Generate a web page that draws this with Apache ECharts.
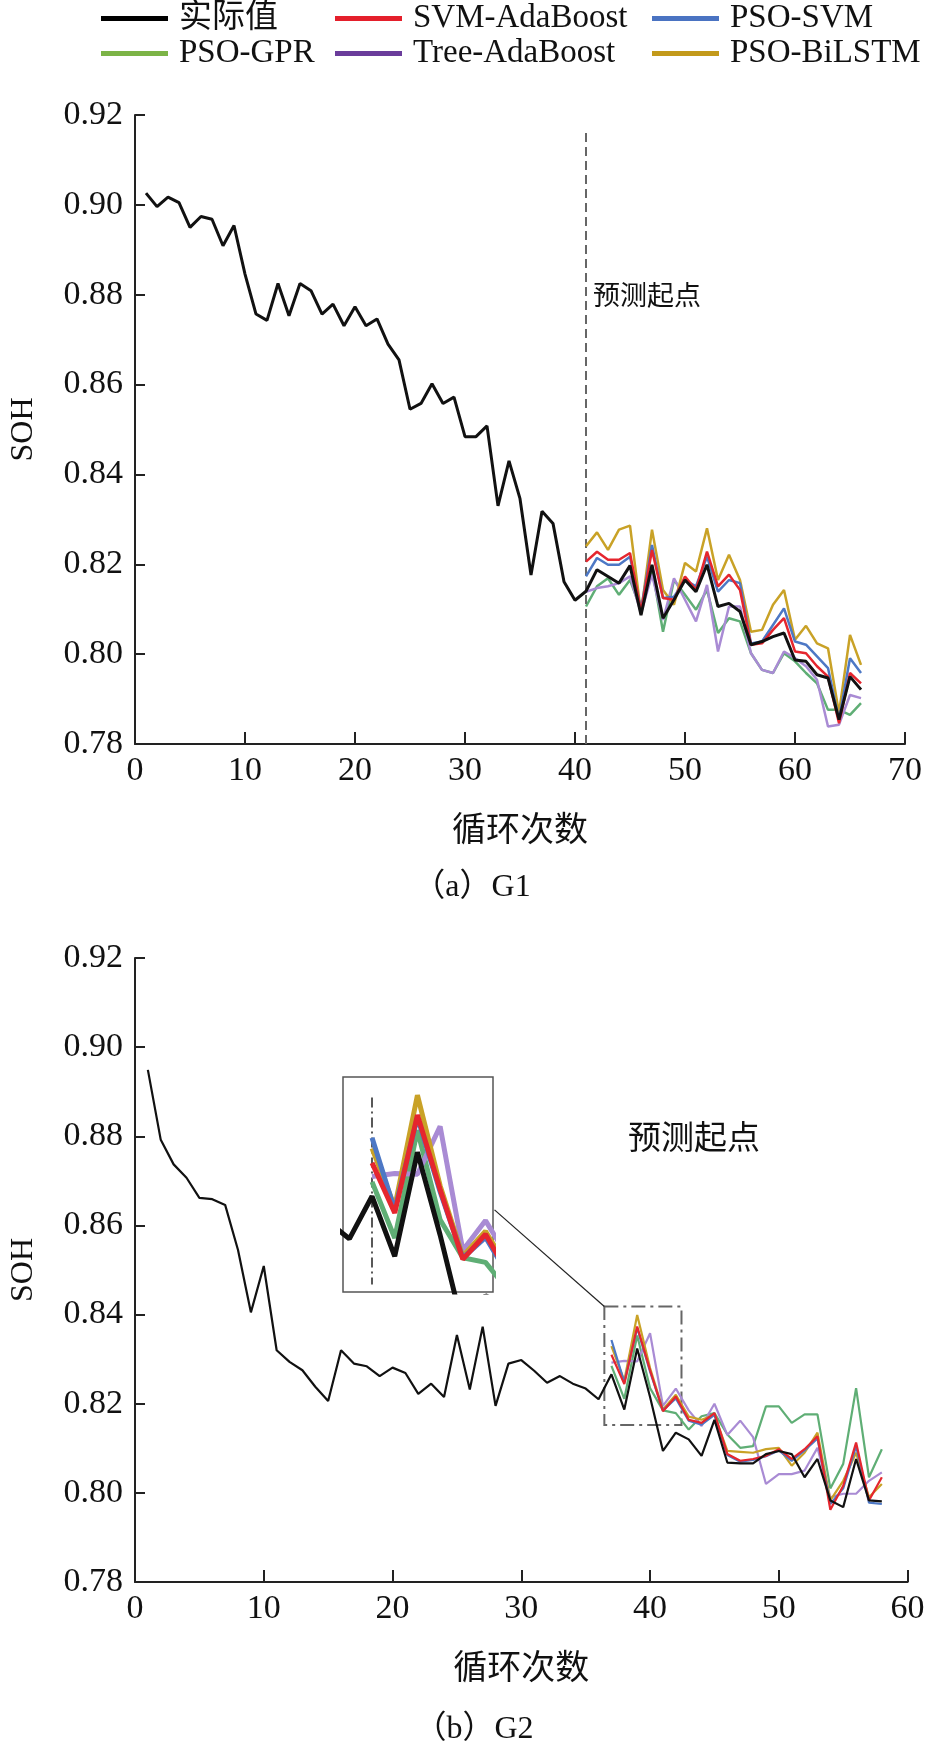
<!DOCTYPE html>
<html>
<head>
<meta charset="utf-8">
<title>SOH</title>
<script src="https://cdn.jsdelivr.net/npm/echarts@6/dist/echarts.min.js"></script>
<style>
	html, body { margin: 0; padding: 0; background: #fff; }
	#soh_chart { width: 930px; height: 1757px; }
</style>
</head>
<body>
<div id="soh_chart"></div>
<script>
//Series names, legend order
let names = ['实际值', 'SVM-AdaBoost', 'PSO-SVM', 'PSO-GPR', 'Tree-AdaBoost', 'PSO-BiLSTM'];
let lineColors = ['#111111', '#e5262e', '#4d78c5', '#5fae75', '#a98bd4', '#c9a227'];
let legendColors = ['#000000', '#e41f2b', '#4a73c2', '#7cb447', '#6a3c9b', '#c39a1b'];

//Axis ticks
let g1XTicks = [0, 70, 10];
let g2XTicks = [0, 60, 10];
let sohTicks = [0.78, 0.92, 0.02];

//G1: measured SOH from cycle 1, predictions from cycle 41
let g1Start = 41;
let g1Actual = [
	0.9026, 0.8996, 0.9017, 0.9005, 0.8950, 0.8974, 0.8968, 0.8909, 0.8954, 0.8846,
	0.8757, 0.8743, 0.8825, 0.8753, 0.8825, 0.8809, 0.8757, 0.8779, 0.8731, 0.8773,
	0.8731, 0.8746, 0.8690, 0.8655, 0.8545, 0.8558, 0.8602, 0.8558, 0.8572, 0.8484,
	0.8484, 0.8508, 0.8330, 0.8430, 0.8346, 0.8176, 0.8318, 0.8291, 0.8161, 0.8120,
	0.8140, 0.8188, 0.8173, 0.8158, 0.8197, 0.8087, 0.8199, 0.8080, 0.8121, 0.8165,
	0.8139, 0.8199, 0.8106, 0.8113, 0.8095, 0.8021, 0.8028, 0.8039, 0.8047, 0.7987,
	0.7984, 0.7954, 0.7947, 0.7854, 0.7950, 0.7921
];
let g1SvmAda = [0.8206, 0.8228, 0.8210, 0.8210, 0.8225, 0.8095, 0.8232, 0.8125, 0.8121, 0.8173, 0.8143, 0.8228, 0.8151, 0.8177, 0.8143, 0.8021, 0.8024, 0.8054, 0.8080, 0.8006, 0.8002, 0.7973, 0.7950, 0.7846, 0.7958, 0.7935];
let g1PsoSvm = [0.8173, 0.8214, 0.8199, 0.8199, 0.8217, 0.8099, 0.8243, 0.8125, 0.8128, 0.8165, 0.8151, 0.8217, 0.8139, 0.8165, 0.8158, 0.8024, 0.8028, 0.8065, 0.8102, 0.8028, 0.8021, 0.7995, 0.7969, 0.7854, 0.7991, 0.7958];
let g1PsoGpr = [0.8106, 0.8151, 0.8169, 0.8132, 0.8165, 0.8099, 0.8191, 0.8050, 0.8165, 0.8132, 0.8099, 0.8143, 0.8047, 0.8080, 0.8073, 0.8002, 0.7965, 0.7958, 0.8002, 0.7984, 0.7958, 0.7935, 0.7876, 0.7876, 0.7865, 0.7891];
let g1TreeAda = [0.8139, 0.8147, 0.8151, 0.8158, 0.8173, 0.8091, 0.8177, 0.8076, 0.8169, 0.8121, 0.8073, 0.8154, 0.8006, 0.8106, 0.8106, 0.8002, 0.7965, 0.7958, 0.8006, 0.7991, 0.7973, 0.7943, 0.7839, 0.7843, 0.7909, 0.7902];
let g1PsoBil = [0.8240, 0.8271, 0.8232, 0.8277, 0.8286, 0.8091, 0.8277, 0.8143, 0.8110, 0.8203, 0.8184, 0.8280, 0.8165, 0.8221, 0.8165, 0.8050, 0.8054, 0.8110, 0.8143, 0.8032, 0.8063, 0.8024, 0.8013, 0.7869, 0.8043, 0.7976];

//G2: measured SOH from cycle 1, predictions from cycle 37
let g2Start = 37;
let g2Actual = [
	0.8949, 0.8792, 0.8737, 0.8707, 0.8662, 0.8659, 0.8646, 0.8545, 0.8405, 0.8509,
	0.8320, 0.8294, 0.8275, 0.8238, 0.8206, 0.8320, 0.8290, 0.8284, 0.8262, 0.8281,
	0.8269, 0.8222, 0.8245, 0.8215, 0.8354, 0.8232, 0.8373, 0.8195, 0.8290, 0.8298,
	0.8274, 0.8247, 0.8262, 0.8245, 0.8234, 0.8210, 0.8266, 0.8187, 0.8324, 0.8215,
	0.8094, 0.8135, 0.8120, 0.8083, 0.8164, 0.8068, 0.8066, 0.8066, 0.8087, 0.8094,
	0.8087, 0.8035, 0.8076, 0.7983, 0.7968, 0.8076, 0.7983, 0.7981
];
let g2SvmAda = [0.8310, 0.8244, 0.8373, 0.8275, 0.8183, 0.8216, 0.8164, 0.8157, 0.8179, 0.8087, 0.8072, 0.8076, 0.8083, 0.8098, 0.8076, 0.8098, 0.8127, 0.7962, 0.8016, 0.8113, 0.7983, 0.8035];
let g2PsoSvm = [0.8343, 0.8248, 0.8370, 0.8272, 0.8185, 0.8212, 0.8162, 0.8153, 0.8175, 0.8085, 0.8070, 0.8074, 0.8082, 0.8095, 0.8072, 0.8095, 0.8122, 0.7975, 0.8010, 0.8105, 0.7978, 0.7975];
let g2PsoGpr = [0.8285, 0.8211, 0.8353, 0.8235, 0.8185, 0.8179, 0.8142, 0.8172, 0.8179, 0.8131, 0.8101, 0.8105, 0.8194, 0.8194, 0.8157, 0.8176, 0.8176, 0.8010, 0.8065, 0.8235, 0.8035, 0.8098];
let g2TreeAda = [0.8292, 0.8296, 0.8295, 0.8358, 0.8195, 0.8234, 0.8185, 0.8150, 0.8200, 0.8130, 0.8162, 0.8125, 0.8020, 0.8042, 0.8042, 0.8050, 0.8101, 0.7990, 0.7998, 0.7998, 0.8027, 0.8046];
let g2PsoBil = [0.8329, 0.8252, 0.8399, 0.8280, 0.8187, 0.8220, 0.8171, 0.8164, 0.8175, 0.8094, 0.8092, 0.8090, 0.8098, 0.8101, 0.8061, 0.8090, 0.8135, 0.7983, 0.8027, 0.8090, 0.7990, 0.8020];

//Zoomed window of G2 (cycle range, SOH range) and where the inset is linked from
let zoomBox = [[36.45, 0.8418], [42.44, 0.8152]];
let zoomLink = [[27.92, 0.8635], [36.45, 0.8418]];
let insetX = [35.72, 42.33];
let insetY = [0.8140, 0.8423];

let serif = '"Liberation Serif", "Noto Sans CJK SC", serif';


//Turn a list of SOH values into [cycle, soh] pairs
function pairs(start, values) {
	let out = [];
	for (let i = 0; i < values.length; i++) {
		out.push([start + i, values[i]]);
	}
	return out;
}

function lineSeries(idx, name, data, width, z) {
	return {
		type: 'line',
		name: name,
		xAxisIndex: idx,
		yAxisIndex: idx,
		data: data,
		symbol: 'none',
		showSymbol: false,
		z: z,
		lineStyle: { width: width, color: lineColors[names.indexOf(name)] },
		itemStyle: { color: lineColors[names.indexOf(name)] },
		emphasis: { disabled: true },
		animation: false
	};
}

//Build the six series of one panel, drawn in the order black ends on top
function panelSeries(idx, start, actual, preds, widths, zBase) {
	let list = [];
	let order = [3, 4, 5, 2, 1];
	for (let k = 0; k < order.length; k++) {
		let n = order[k];
		list.push(lineSeries(idx, names[n], pairs(start, preds[n - 1]), widths[1], zBase + k));
	}
	list.push(lineSeries(idx, names[0], pairs(1, actual), widths[0], zBase + 7));
	return list;
}

function xAxis(idx, ticks) {
	return {
		type: 'value',
		gridIndex: idx,
		min: ticks[0], max: ticks[1], interval: ticks[2],
		name: '循环次数',
		nameLocation: 'middle',
		nameGap: 71,
		nameTextStyle: { fontSize: 34, fontFamily: serif, color: '#111' },
		axisLine: { show: true, onZero: false, lineStyle: { color: '#222', width: 2 } },
		axisTick: { show: true, inside: true, length: 12, lineStyle: { color: '#222', width: 2 } },
		axisLabel: { fontSize: 34, fontFamily: serif, color: '#111', margin: 10 },
		splitLine: { show: false }
	};
}

function yAxis(idx) {
	return {
		type: 'value',
		gridIndex: idx,
		min: sohTicks[0], max: sohTicks[1], interval: sohTicks[2],
		name: 'SOH',
		nameLocation: 'middle',
		nameGap: 95,
		nameRotate: 90,
		nameTextStyle: { fontSize: 32, fontFamily: serif, color: '#111' },
		axisLine: { show: true, onZero: false, lineStyle: { color: '#222', width: 2 } },
		axisTick: { show: true, inside: true, length: 10, lineStyle: { color: '#222', width: 2 } },
		axisLabel: {
			fontSize: 34, fontFamily: serif, color: '#111', margin: 12,
			formatter: function (v) { return v.toFixed(2); }
		},
		splitLine: { show: false }
	};
}

function legendAt(i, left, top) {
	return {
		left: left,
		top: top,
		padding: 0,
		icon: 'rect',
		itemWidth: 67,
		itemHeight: 5,
		selectedMode: false,
		textStyle: { fontSize: 33, fontFamily: serif, color: '#111', padding: [0, 0, 0, 6] },
		data: [{ name: names[i], itemStyle: { color: legendColors[i] } }]
	};
}

function makeOption() {
	let g1Preds = [g1SvmAda, g1PsoSvm, g1PsoGpr, g1TreeAda, g1PsoBil];
	let g2Preds = [g2SvmAda, g2PsoSvm, g2PsoGpr, g2TreeAda, g2PsoBil];

	let series = [];
	series = series.concat(panelSeries(0, g1Start, g1Actual, g1Preds, [3, 2.5], 3));
	series = series.concat(panelSeries(1, g2Start, g2Actual, g2Preds, [2.2, 2.2], 3));
	//Inset sits over its own white grid, so its lines need a higher z
	series = series.concat(panelSeries(2, g2Start, g2Actual, g2Preds, [5, 5], 20));

	//Prediction start lines and the zoom frame hang off the black series
	let g1Black = series[5];
	g1Black.markLine = {
		silent: true, symbol: ['none', 'none'], label: { show: false },
		lineStyle: { color: '#666', type: [9, 5], width: 2 },
		data: [[{ coord: [g1Start, 0.78] }, { coord: [g1Start, 0.9165] }]]
	};
	let g2Black = series[11];
	g2Black.markLine = {
		silent: true, symbol: ['none', 'none'], label: { show: false },
		data: [
			[{ coord: [g2Start, 0.78], lineStyle: { color: '#333', type: [12, 6], width: 2 } }, { coord: [g2Start, 0.923] }],
			[{ coord: zoomLink[0], lineStyle: { color: '#222', type: 'solid', width: 1.2 } }, { coord: zoomLink[1] }]
		]
	};
	g2Black.markArea = {
		silent: true,
		itemStyle: { color: 'rgba(0,0,0,0)', borderColor: '#666', borderWidth: 2, borderType: [14, 5, 3, 5] },
		data: [[{ coord: zoomBox[0] }, { coord: zoomBox[1] }]]
	};
	let insetBlack = series[17];
	insetBlack.markLine = {
		silent: true, symbol: ['none', 'none'], label: { show: false },
		lineStyle: { color: '#222', type: [10, 4, 2, 4], width: 1.5 },
		data: [[{ coord: [g2Start, 0.8396] }, { coord: [g2Start, 0.8150] }]]
	};

	return {
		backgroundColor: '#fff',
		animation: false,
		legend: [
			legendAt(0, 101, 2), legendAt(1, 335, 2), legendAt(2, 652, 2),
			legendAt(3, 101, 37), legendAt(4, 335, 37), legendAt(5, 652, 37)
		],
		grid: [
			{ left: 126.6, top: 115, width: 778.4, height: 629, containLabel: false },
			{ left: 132, top: 958, width: 775.6, height: 624, containLabel: false },
			{ left: 343, top: 1077, width: 150, height: 215, containLabel: false, show: true,
				borderColor: '#555', borderWidth: 1.5, backgroundColor: '#fff', z: 5 }
		],
		xAxis: [
			xAxis(0, g1XTicks),
			xAxis(1, g2XTicks),
			{ type: 'value', gridIndex: 2, min: insetX[0], max: insetX[1], show: false }
		],
		yAxis: [
			yAxis(0),
			yAxis(1),
			{ type: 'value', gridIndex: 2, min: insetY[0], max: insetY[1], show: false }
		],
		graphic: [
			{ type: 'text', x: 593, y: 295, style: { text: '预测起点', font: '27px "Noto Sans CJK SC"', fill: '#111', verticalAlign: 'middle' } },
			{ type: 'text', x: 628, y: 1136, style: { text: '预测起点', font: '33px "Noto Sans CJK SC"', fill: '#111', verticalAlign: 'middle' } },
			{ type: 'text', x: 472, y: 888, style: { text: '（a）G1', font: '32px ' + serif, fill: '#111', align: 'center', verticalAlign: 'middle' } },
			{ type: 'text', x: 474, y: 1730, style: { text: '（b）G2', font: '32px ' + serif, fill: '#111', align: 'center', verticalAlign: 'middle' } }
		],
		series: series
	};
}

window.onload = function () {
	let chart = echarts.init(document.getElementById('soh_chart'));
	chart.setOption(makeOption());
};
</script>
</body>
</html>
